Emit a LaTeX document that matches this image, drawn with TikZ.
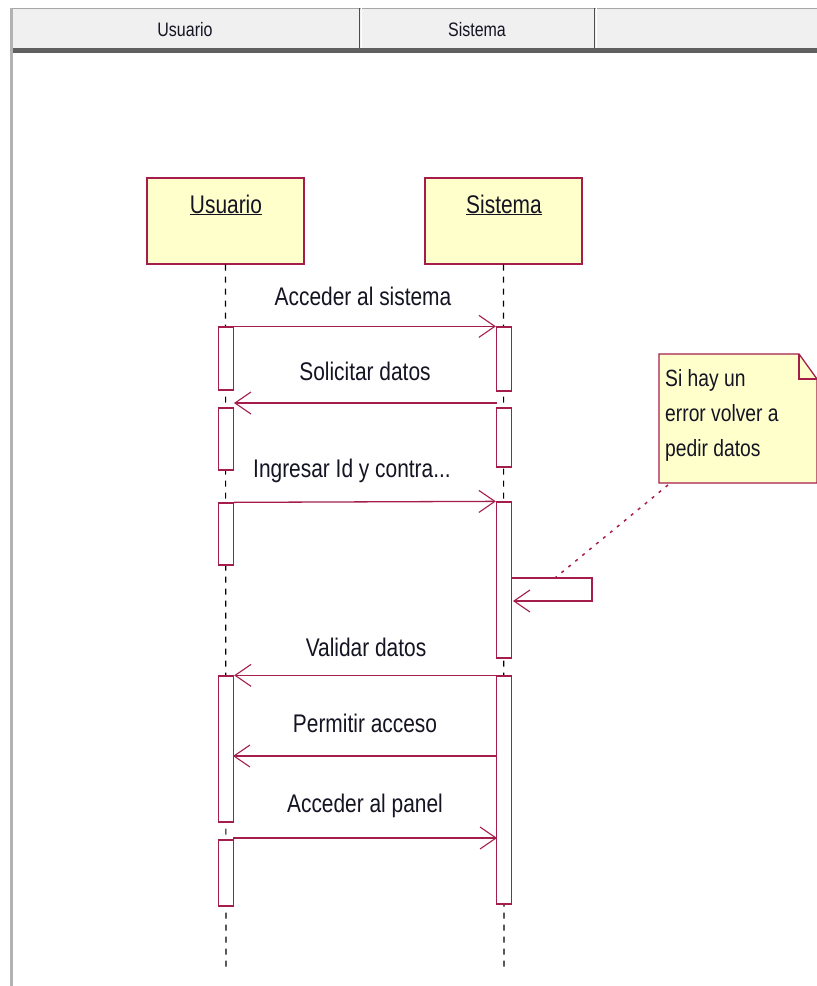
\documentclass[tikz,border=0pt]{standalone}
\usepackage{fontspec}
\setmainfont{Liberation Sans}[FakeStretch=0.82]
\usetikzlibrary{arrows.meta}
\definecolor{umlred}{RGB}{165,30,75}
\definecolor{umlfill}{RGB}{255,255,204}
\definecolor{hdrfill}{RGB}{240,240,240}
\definecolor{txt}{RGB}{20,20,35}
\tikzset{
  headbox/.style={draw=umlred, line width=1.4pt, fill=umlfill, minimum width=157pt, minimum height=86pt, inner sep=0pt},
  headlbl/.style={font=\fontsize{25.5}{28}\selectfont, text=txt, inner sep=0pt},
  act/.style={draw=umlred, line width=1.3pt, fill=white, minimum width=15pt, inner sep=0pt},
  lifeline/.style={draw=black, line width=1.1pt, dash pattern=on 6pt off 6pt},
  msg/.style={draw=umlred, line width=1.3pt, -{Straight Barb[length=16pt,width=22pt,line width=1.1pt]}},
  msglbl/.style={font=\fontsize{25.5}{28}\selectfont, text=txt, inner sep=0pt},
  notetxt/.style={font=\fontsize{23.5}{35}\selectfont, text=txt, inner sep=0pt, align=left},
  hdrlbl/.style={font=\fontsize{19.5}{22}\selectfont, text=txt, inner sep=0pt},
}
\newcommand\myactbar[4]{\node[act, minimum height={#4-#3}] (#1) at (#2,{(#3+#4)/2}) {};}
\begin{document}
\begin{tikzpicture}[x=1pt,y=-1pt]
\useasboundingbox (0,0) rectangle (817,986);
\fill[white] (0,0) rectangle (817,986);
% window header
\fill[hdrfill] (10,8) rectangle (817,48);
\draw[gray!70, line width=0.8pt] (10,8) -- (817,8);
\fill[gray!75!black] (10,48) rectangle (817,53);
\fill[gray!60] (10,8) rectangle (13,986);
\draw[gray!60!black, line width=1pt] (359,8) -- (359,48);
\draw[white, line width=1pt] (361,8) -- (361,48);
\draw[gray!60!black, line width=1pt] (594,8) -- (594,48);
\draw[white, line width=1pt] (596,8) -- (596,48);
\node[hdrlbl] (hu) at (185,30) {Usuario};
\node[hdrlbl] (hs) at (477,30) {Sistema};
% lifeline heads
\node[headbox] (usr) at (225.5,221) {};
\node[headbox] (sys) at (503.5,221) {};
\node[headlbl, anchor=base] (usrl) at (226,213) {\underline{Usuario}};
\node[headlbl, anchor=base] (sysl) at (504,213) {\underline{Sistema}};
% lifelines
\coordinate (ue) at (226,968);
\coordinate (se) at (504,968);
\draw[lifeline] (usr.south) -- (ue);
\draw[lifeline] (sys.south) -- (se);
% activation bars
\myactbar{a1}{226}{327}{390}
\myactbar{a2}{226}{408}{470}
\myactbar{a3}{226}{503}{565}
\myactbar{a4}{226}{676}{822}
\myactbar{a5}{226}{840}{906}
\myactbar{s1}{504}{327}{391}
\myactbar{s2}{504}{408}{467}
\myactbar{s3}{504}{502}{658}
\myactbar{s4}{504}{676}{904}
% messages
\coordinate (m2a) at (497,403);
\coordinate (m2b) at (234,403);
\coordinate (m6a) at (497,756);
\coordinate (m6b) at (233,756);
\coordinate (m7a) at (233,838);
\coordinate (m7b) at (497,838);
\draw[msg] (a1.north east) -- (s1.north west);
\draw[msg] (m2a) -- (m2b);
\draw[msg] (a3.north east) -- (s3.north west);
\draw[msg] (s4.north west) -- (a4.north east);
\draw[msg] (m6a) -- (m6b);
\draw[msg] (m7a) -- (m7b);
\node[msglbl] (l1) at (363,296) {Acceder al sistema};
\node[msglbl] (l2) at (365,371) {Solicitar datos};
\node[msglbl] (l3) at (352,471) {Ingresar Id y contra...};
\node[msglbl] (l5) at (366,647) {Validar datos};
\node[msglbl] (l6) at (365,723) {Permitir acceso};
\node[msglbl] (l7) at (365,806) {Acceder al panel};
% self message
\coordinate (sm1) at (512,578);
\coordinate (sm2) at (592,578);
\coordinate (sm3) at (592,601);
\coordinate (sm4) at (513,601);
\draw[msg] (sm1) -- (sm2) -- (sm3) -- (sm4);
% note
\coordinate (n1) at (659,354);
\coordinate (n2) at (799,354);
\coordinate (n3) at (817,379);
\coordinate (n4) at (817,483);
\coordinate (n5) at (659,483);
\draw[umlred, line width=1.3pt, fill=umlfill] (n1) -- (n2) -- (n3) -- (n4) -- (n5) -- cycle;
\draw[umlred, line width=1.1pt] (n2) |- (n3);
\node[notetxt, anchor=north west] (nt) at (665,369) {Si hay un\\error volver a\\pedir datos};
\coordinate (nc) at (668,485);
\coordinate (sc) at (555,578);
\draw[umlred, line width=1.5pt, dash pattern=on 3pt off 6pt] (nc) -- (sc);
\end{tikzpicture}
\end{document}
